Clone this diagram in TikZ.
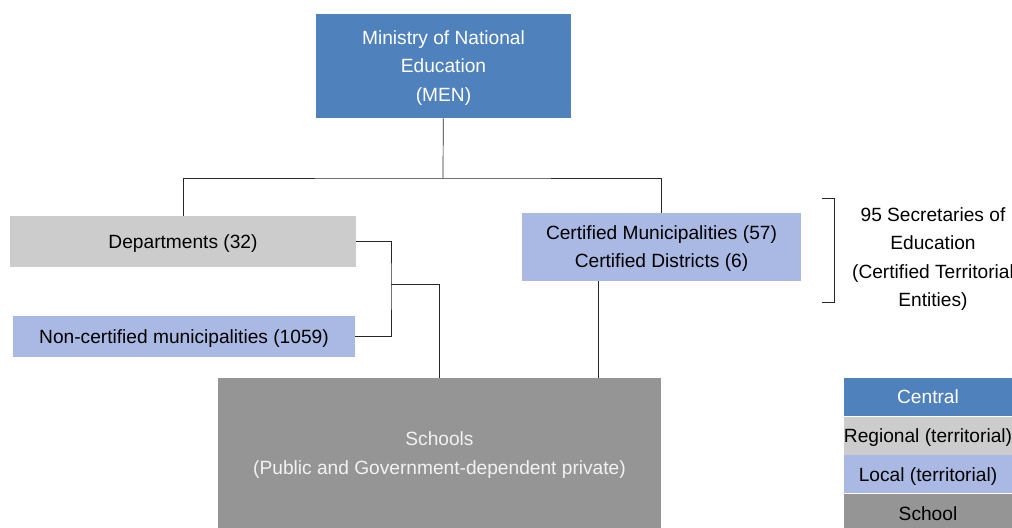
\documentclass[tikz,border=0pt]{standalone}
\usepackage{fontspec}
\setmainfont{Liberation Sans}
\usetikzlibrary{positioning}

\definecolor{centralblue}{HTML}{4F81BD}
\definecolor{localblue}{HTML}{A9B9E3}
\definecolor{regionalgray}{HTML}{CCCCCC}
\definecolor{schoolgray}{HTML}{959595}

\begin{document}
\begin{tikzpicture}[
    x=0.02cm, y=-0.02cm,
    font=\fontsize{10.9}{16}\selectfont,
    level/.style={
        rectangle, inner sep=0pt, align=center, draw=none, text depth=0pt
    },
    central/.style={level, fill=centralblue, text=white},
    regional/.style={level, fill=regionalgray},
    local/.style={level, fill=localblue},
    school/.style={level, fill=schoolgray},
    key/.style={minimum width=3.36cm, minimum height=0.76cm},
    link/.style={thin, color=black!85}
]
    \useasboundingbox (0,0) rectangle (1012,528);
    % Nodes
    \node (men) [central, minimum width=5.1cm, minimum height=2.08cm] at (443.5,66)
        {Ministry of National\\Education\\(MEN)};
    \node (dept) [regional, minimum width=6.92cm, minimum height=1.02cm] at (183,241.5)
        {Departments (32)};
    \node (noncert) [local, minimum width=6.84cm, minimum height=0.82cm] at (184,336.5)
        {Non-certified municipalities (1059)};
    \node (certif) [local, minimum width=5.58cm, minimum height=1.36cm] at (661.5,247)
        {Certified Municipalities (57)\\Certified Districts (6)};
    \node (schools) [school, text=white!95!black, minimum width=8.86cm, minimum height=3cm] at (439.5,453)
        {Schools\\(Public and Government-dependent private)};
    % Connections
    \coordinate (split) at (443,178);
    \coordinate (join) at (391,284);
    \coordinate (drop) at (598,330);
    \draw [link] (men) -- (split);
    \draw [link] (dept.north) |- (split) -| (certif.north);
    \draw [link] (dept.east) -| (join) |- (noncert.east);
    \draw [link] (join) -| (schools.north);
    \draw [link] (drop |- certif.south) -- (drop |- schools.north);
    % Labels
    \coordinate (brtop) at (834,198);
    \coordinate (brbot) at (834,302);
    \draw [link] ([xshift=-0.24cm]brtop) -- (brtop) -- (brbot) -- ([xshift=-0.24cm]brbot);
    \node (secretaries) [align=center, text depth=0pt] at (933,257)
        {95 Secretaries of\\Education\\(Certified Territorial\\Entities)};
    % Legend
    \node (keycentral) [central, key] at (928,397) {Central};
    \node (keyregional) [regional, key, below=0pt of keycentral] {Regional (territorial)};
    \node (keylocal) [local, key, below=0pt of keyregional] {Local (territorial)};
    \node (keyschool) [school, key, below=0pt of keylocal] {School};
\end{tikzpicture}
\end{document}
